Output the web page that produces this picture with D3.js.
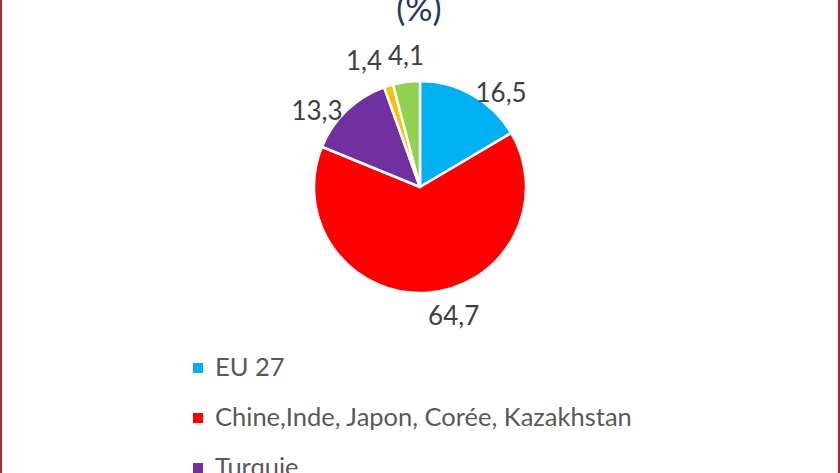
<!DOCTYPE html>
<html><head><meta charset="utf-8">
<script src="https://cdn.jsdelivr.net/npm/d3@7"></script>
<style>html,body{margin:0;padding:0;background:#fff;overflow:hidden}</style>
</head><body>
<svg id="chart" width="840" height="473"></svg>
<script>
const categories = ["EU 27", "Chine,Inde, Japon, Corée, Kazakhstan", "Turquie", "Autres pays", "Reste du monde"];
const values = [16.5, 64.7, 13.3, 1.4, 4.1];
const valueLabels = ["16,5", "64,7", "13,3", "1,4", "4,1"];
const colors = ["#00B0F0", "#FF0000", "#7030A0", "#FFC000", "#92D050"];
const titleText = "(%)";

const W = 840, H = 473;
const svg = d3.select("#chart");
svg.append("rect").attr("x", 0).attr("y", 0).attr("width", W).attr("height", H).attr("fill", "#fff");

const FONT = "Lato, 'Open Sans', sans-serif";
const cx = 420, cy = 187, R = 106;

svg.append("text").attr("x", 419).attr("y", 21).attr("text-anchor", "middle")
  .attr("font-family", FONT).attr("font-size", 34).attr("fill", "#1F3864").text(titleText);

const data = categories.map((c, i) => ({ name: c, value: values[i], label: valueLabels[i], color: colors[i] }));
const pie = d3.pie().value(d => d.value).sort(null);
const arcs = pie(data);
const arc = d3.arc().innerRadius(0).outerRadius(R);

const g = svg.append("g").attr("transform", `translate(${cx},${cy})`);
g.selectAll("path").data(arcs).join("path")
  .attr("d", arc).attr("fill", d => d.data.color)
  .attr("stroke", "#fff").attr("stroke-width", 2.5).attr("stroke-linejoin", "round");

// outside-end labels (small slices pushed further out, Excel-like)
const fs = 26;
const placed = [];
arcs.forEach(a => {
  const m = (a.startAngle + a.endAngle) / 2;
  const small = (a.endAngle - a.startAngle) < 0.35;
  const labelR = R + (small ? 22 : 6);
  const px = Math.sin(m) * labelR, py = -Math.cos(m) * labelR;
  const t = g.append("text").attr("font-family", FONT).attr("font-size", fs)
    .attr("fill", "#404040").attr("text-anchor", "middle").text(a.data.label);
  const w = t.node().getComputedTextLength();
  const h = fs * 0.72;
  let x = px + Math.sign(Math.sin(m)) * w / 2;
  let y = small ? py - Math.cos(m) * h / 4 : py + (1 - Math.cos(m)) / 2 * h * 0.8 + 2;
  placed.forEach(p => {
    if (Math.abs(p.y - y) < h && Math.abs(p.x - x) < (p.w + w) / 2 + 6) {
      x = p.x + (p.w + w) / 2 + 6;
    }
  });
  placed.push({ x, y, w });
  t.attr("x", x).attr("y", y + h / 2);
});

// legend
const leg = svg.append("g").attr("transform", "translate(193,363)");
const rowH = 50;
const items = leg.selectAll("g").data(data).join("g").attr("transform", (d, i) => `translate(0,${i * rowH})`);
items.append("rect").attr("width", 10).attr("height", 10).attr("fill", d => d.color);
items.append("text").attr("x", 22).attr("y", 13).attr("font-family", FONT).attr("font-size", 25.5)
  .attr("fill", "#595959").text(d => d.name);

// frame
svg.append("rect").attr("x", 1).attr("y", -5).attr("width", W - 2).attr("height", H + 10)
  .attr("fill", "none").attr("stroke", "#B3262B").attr("stroke-width", 2);
</script>
</body></html>
